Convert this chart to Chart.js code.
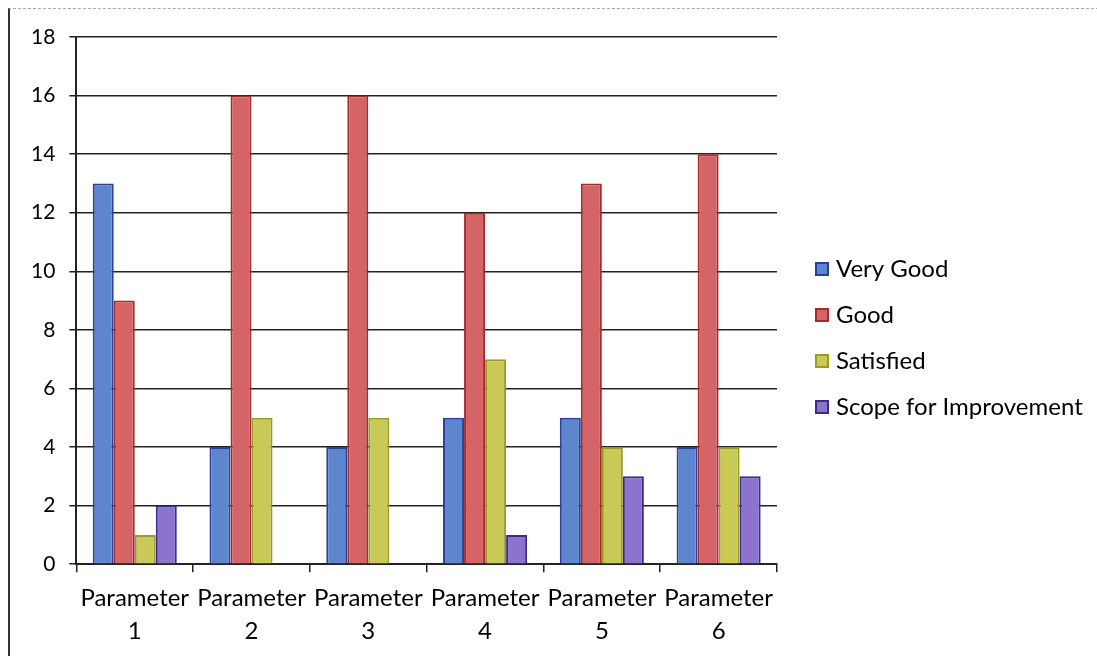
<!DOCTYPE html>
<html>
<head>
<meta charset="utf-8">
<script src="https://cdn.jsdelivr.net/npm/chart.js@4"></script>
<style>
  html, body { margin: 0; padding: 0; background: #fff; }
  .frame {
    position: absolute; left: 8px; top: 8px; width: 1089px; height: 648px;
    border-left: 2px solid #333; border-top: 1px dashed #aaa;
  }
  #wrap { position: absolute; left: 0; top: 0; width: 1097px; height: 656px; }
</style>
</head>
<body>
<div class="frame"></div>
<div id="wrap"><canvas id="chart"></canvas></div>
<script>
const categories = [['Parameter', '1'], ['Parameter', '2'], ['Parameter', '3'], ['Parameter', '4'], ['Parameter', '5'], ['Parameter', '6']];
const veryGood = [13, 4, 4, 5, 5, 4];
const good = [9, 16, 16, 12, 13, 14];
const satisfied = [1, 5, 5, 7, 4, 4];
const scope = [2, 0, 0, 1, 3, 3];

const font = "Lato, 'Open Sans', sans-serif";

function series(label, data, fill, edge) {
    return { label, data, backgroundColor: fill, borderColor: edge, borderWidth: 2,
             categoryPercentage: 0.72, barPercentage: 1.0 };
}

// Legend drawn on the canvas to the right of the plot, like the Excel original
const sideLegend = {
    id: 'sideLegend',
    afterDraw(chart) {
        const c = chart.ctx;
        const sets = chart.data.datasets;
        const gap = 46;
        const x = chart.chartArea.right + 39;
        let y = 338 - gap * (sets.length - 1) / 2;
        c.save();
        c.font = '24px ' + font;
        c.textBaseline = 'middle';
        sets.forEach(ds => {
            c.fillStyle = ds.backgroundColor;
            c.strokeStyle = ds.borderColor;
            c.lineWidth = 2;
            c.fillRect(x, y - 6, 12, 12);
            c.strokeRect(x, y - 6, 12, 12);
            c.fillStyle = '#000';
            c.fillText(ds.label, x + 20, y);
            y += gap;
        });
        c.restore();
    }
};

document.addEventListener('DOMContentLoaded', () => {
    const ctx = document.getElementById('chart').getContext('2d');
    new Chart(ctx, {
        type: 'bar',
        data: {
            labels: categories,
            datasets: [
                series('Very Good', veryGood, '#5d86cf', '#2a3f9a'),
                series('Good', good, '#d46466', '#a82a2c'),
                series('Satisfied', satisfied, '#c9c958', '#9a9a2a'),
                series('Scope for Improvement', scope, '#8a74cc', '#3a2a8a')
            ]
        },
        plugins: [sideLegend],
        options: {
            responsive: true,
            maintainAspectRatio: false,
            animation: false,
            layout: { padding: { left: 17, top: 37, right: 320, bottom: -1 } },
            plugins: {
                legend: { display: false },
                tooltip: { enabled: false }
            },
            scales: {
                x: {
                    grid: { drawOnChartArea: false, drawTicks: true, tickLength: 8, color: '#222', lineWidth: 1.5 },
                    border: { color: '#222', width: 2 },
                    ticks: { color: '#000', font: { family: font, size: 24, lineHeight: 1.35 }, maxRotation: 0, padding: 10 }
                },
                y: {
                    min: 0, max: 18,
                    ticks: { stepSize: 2, color: '#000', font: { family: font, size: 21 }, padding: 14 },
                    grid: { color: '#222', lineWidth: 1.5, tickLength: 7 },
                    border: { color: '#222', width: 2 }
                }
            }
        }
    });
});
</script>
</body>
</html>
